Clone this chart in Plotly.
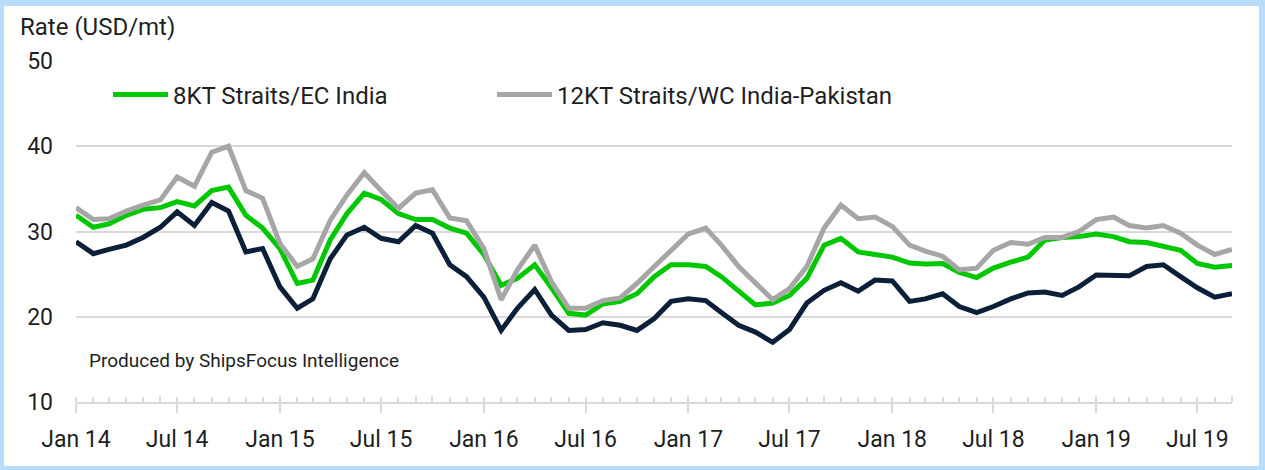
import pandas as pd
import plotly.graph_objects as go

months = pd.date_range("2014-01-01", periods=69, freq="MS")

green_8kt = [31.9, 30.5, 30.9, 31.9, 32.6, 32.8, 33.5, 33.0, 34.8, 35.2, 31.9, 30.4,
             28.0, 23.9, 24.3, 29.0, 32.1, 34.5, 33.75, 32.1, 31.4, 31.4, 30.4, 29.8,
             27.3, 23.7, 24.5, 26.1, 23.4, 20.4, 20.2, 21.5, 21.8, 22.7, 24.7, 26.1,
             26.1, 25.9, 24.7, 23.1, 21.4, 21.6, 22.5, 24.5, 28.4, 29.2, 27.6, 27.3,
             27.0, 26.3, 26.2, 26.25, 25.2, 24.6, 25.7, 26.4, 27.0, 29.0, 29.3, 29.4,
             29.7, 29.4, 28.8, 28.7, 28.3, 27.8, 26.25, 25.8, 26.0]

gray_12kt = [32.8, 31.4, 31.5, 32.4, 33.1, 33.7, 36.4, 35.3, 39.3, 40.0, 34.8, 33.9,
             28.6, 25.9, 26.8, 31.3, 34.3, 36.9, 34.8, 32.7, 34.5, 34.9, 31.6, 31.25,
             28.0, 22.0, 25.5, 28.4, 24.1, 21.0, 21.0, 21.9, 22.2, 23.9, 25.9, 27.8,
             29.7, 30.4, 28.4, 25.9, 23.9, 22.0, 23.3, 25.9, 30.4, 33.1, 31.5, 31.7,
             30.6, 28.4, 27.7, 27.1, 25.5, 25.7, 27.8, 28.7, 28.5, 29.3, 29.3, 30.0,
             31.4, 31.7, 30.7, 30.4, 30.7, 29.8, 28.4, 27.3, 27.9]

dark_series = [28.8, 27.4, 27.9, 28.4, 29.3, 30.5, 32.3, 30.7, 33.4, 32.4, 27.6, 28.0,
               23.5, 21.0, 22.1, 26.8, 29.6, 30.5, 29.2, 28.8, 30.7, 29.8, 26.1, 24.7,
               22.3, 18.4, 21.0, 23.2, 20.2, 18.4, 18.5, 19.3, 19.0, 18.4, 19.8, 21.8,
               22.1, 21.9, 20.5, 19.0, 18.2, 17.0, 18.5, 21.6, 23.1, 24.0, 23.0, 24.3,
               24.2, 21.8, 22.1, 22.7, 21.2, 20.5, 21.2, 22.1, 22.8, 22.9, 22.5, 23.5,
               24.9, 24.8, 24.8, 25.9, 26.1, 24.7, 23.4, 22.3, 22.7]

W, H = 1265, 470
ML, MR, MT, MB = 76, 33, 61, 68
PW, PH = W - ML - MR, H - MT - MB

def px_x(p):
    return (p - ML) / PW

def px_y(p):
    return (H - MB - p) / PH

FONT = "Roboto"
TXT = "#1f1f1f"

fig = go.Figure()
fig.add_trace(go.Scatter(x=months, y=green_8kt, mode="lines", name="8KT Straits/EC India",
                         line=dict(color="#00c800", width=5), legend="legend"))
fig.add_trace(go.Scatter(x=months, y=gray_12kt, mode="lines", name="12KT Straits/WC India-Pakistan",
                         line=dict(color="#a6a6a6", width=5), legend="legend2"))
fig.add_trace(go.Scatter(x=months, y=dark_series, mode="lines", name="Other route",
                         line=dict(color="#0c1f38", width=5), showlegend=False))

legend_common = dict(orientation="h", xanchor="left", yanchor="middle",
                     bgcolor="rgba(0,0,0,0)", font=dict(size=24, color=TXT), itemwidth=55)

fig.update_layout(
    width=W, height=H,
    margin=dict(l=ML, r=MR, t=MT, b=MB, pad=0),
    paper_bgcolor="#b8dcfb",
    plot_bgcolor="rgba(0,0,0,0)",
    font=dict(family=FONT, size=22, color=TXT),
    legend=dict(x=px_x(108), y=px_y(95), **legend_common),
    legend2=dict(x=px_x(492), y=px_y(95), **legend_common),
    xaxis=dict(
        type="date",
        range=[months[0], months[-1]],
        tick0="2014-01-01", dtick="M6", tickformat="%b %y",
        ticks="outside", ticklen=9, tickwidth=2, tickcolor="#d9d9d9",
        showline=True, linecolor="#d9d9d9", linewidth=2,
        showgrid=False, zeroline=False,
        tickfont=dict(size=23, color=TXT),
        ticklabelstandoff=6,
        minor=dict(dtick="M1", ticks="inside", ticklen=5, tickwidth=1.5,
                   tickcolor="#d9d9d9", showgrid=False),
    ),
    yaxis=dict(
        range=[10, 50], dtick=10,
        showgrid=True, gridcolor="#d9d9d9", gridwidth=1.5,
        zeroline=False, showline=False, ticks="",
        tickfont=dict(size=23, color=TXT),
        ticklabelstandoff=22,
    ),
    shapes=[dict(type="rect", xref="paper", yref="paper", layer="below",
                 x0=px_x(4), x1=px_x(1259), y0=px_y(466), y1=px_y(6),
                 fillcolor="white", line=dict(width=0))],
    annotations=[
        dict(text="Rate (USD/mt)", xref="paper", yref="paper", x=px_x(18), y=px_y(27),
             xanchor="left", yanchor="middle", showarrow=False,
             font=dict(size=24, color=TXT)),
        dict(text="Produced by ShipsFocus Intelligence", xref="paper", yref="paper",
             x=px_x(87), y=px_y(360), xanchor="left", yanchor="middle", showarrow=False,
             font=dict(size=19, color=TXT)),
    ],
)

fig.write_html("out.html", config={"displayModeBar": False},
               post_script="document.body.style.margin='0';document.body.style.overflow='hidden';")
